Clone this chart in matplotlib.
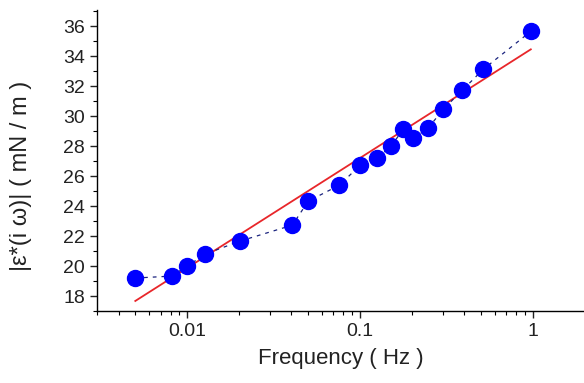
import matplotlib
matplotlib.use('Agg')
import matplotlib.pyplot as plt
from matplotlib.ticker import LogLocator, MultipleLocator, FixedLocator, NullFormatter

# Данные
frequency = [0.005, 0.0081, 0.01, 0.0127, 0.0202, 0.0405, 0.05, 0.0757, 0.1,
             0.125, 0.151, 0.177, 0.202, 0.247, 0.302, 0.389, 0.514, 0.97]
modulus = [19.2, 19.33, 20.0, 20.8, 21.67, 22.73, 24.33, 25.4, 26.73,
           27.2, 28.0, 29.13, 28.53, 29.2, 30.47, 31.73, 33.13, 35.67]

# Аппроксимирующая прямая (концы)
fit_frequency = [0.005, 0.97]
fit_modulus = [17.67, 34.47]

plt.rcParams['font.family'] = ['Liberation Sans', 'DejaVu Sans']

fig = plt.figure(figsize=(5.84, 3.83), dpi=100)
ax = fig.add_axes([0.166, 0.188, 0.834, 0.786])

ax.plot(frequency, modulus, linestyle=(0, (3, 4)), color='#1a237e', linewidth=0.9,
        marker='o', markersize=11.5, markerfacecolor='#0000ff', markeredgecolor='#0000ff',
        zorder=3)
ax.plot(fit_frequency, fit_modulus, color='#e8262a', linewidth=1.3, zorder=2)

ax.set_xscale('log')
ax.set_xlim(0.003, 1.97)
ax.set_ylim(17, 37.1)

ax.xaxis.set_major_locator(FixedLocator([0.01, 0.1, 1]))
ax.xaxis.set_minor_locator(LogLocator(base=10, subs=range(2, 10)))
ax.xaxis.set_minor_formatter(NullFormatter())
ax.set_xticklabels(['0.01', '0.1', '1'])
ax.yaxis.set_major_locator(MultipleLocator(2))
ax.yaxis.set_minor_locator(MultipleLocator(1))
ax.set_yticks(range(18, 37, 2))

for side in ['top', 'right']:
    ax.spines[side].set_visible(False)
for side in ['left', 'bottom']:
    ax.spines[side].set_linewidth(1.0)

ax.tick_params(which='major', direction='out', length=5, width=1, labelsize=14, colors='#222222')
ax.tick_params(which='minor', direction='out', length=3, width=0.8)

ax.set_xlabel('Frequency ( Hz )', fontsize=16, color='#222222', labelpad=6)
ax.set_ylabel('|ε*(i ω)| ( mN / m )', fontsize=17, color='#222222', labelpad=22)
ax.yaxis.set_label_coords(-0.133, 0.45)

fig.savefig('out.png', dpi=100)
